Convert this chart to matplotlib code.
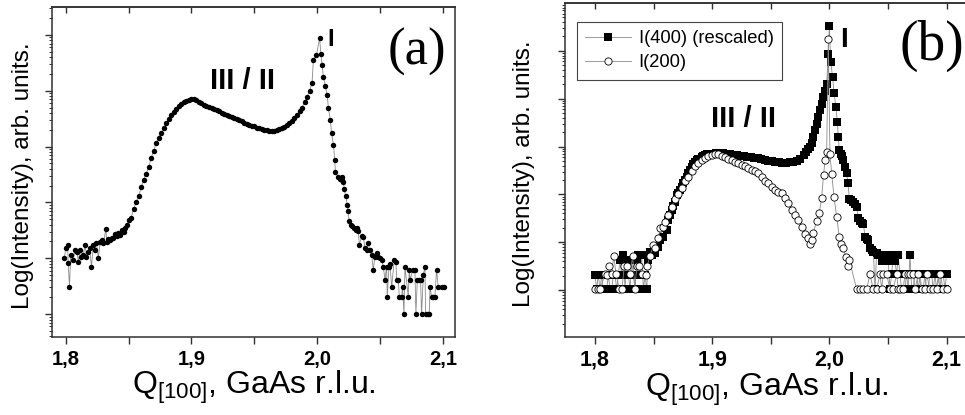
import matplotlib

matplotlib.use("Agg")
import matplotlib.pyplot as plt
import numpy as np
from matplotlib.ticker import FixedLocator, LogLocator, MultipleLocator, NullFormatter

plt.rcParams["font.family"] = ["Liberation Sans", "DejaVu Sans"]
plt.rcParams["mathtext.fontset"] = "custom"
plt.rcParams["mathtext.rm"] = "Liberation Sans"
plt.rcParams["mathtext.it"] = "Liberation Sans:italic"
plt.rcParams["mathtext.bf"] = "Liberation Sans:bold"

# Q[100] and log10(intensity)
# panel (a)
scan_a = [
    (1.799, 1.01), (1.800, 1.18), (1.8015, 1.23), (1.802, 0.91), (1.803, 0.49),
    (1.804, 1.06), (1.806, 0.97), (1.8075, 1.15), (1.809, 1.12), (1.810, 0.94),
    (1.8115, 1.15), (1.8125, 1.03), (1.814, 1.06), (1.8155, 1.24), (1.8165, 1.03),
    (1.818, 1.12), (1.819, 1.18), (1.8205, 0.85), (1.822, 1.24), (1.823, 1.15),
    (1.8245, 1.27), (1.826, 1.01), (1.8275, 1.30), (1.8285, 1.33), (1.830, 1.27),
    (1.832, 1.53), (1.8325, 1.30), (1.834, 1.35), (1.835, 1.33), (1.8365, 1.36),
    (1.838, 1.37), (1.839, 1.43), (1.8405, 1.39), (1.842, 1.45), (1.843, 1.42),
    (1.8445, 1.51), (1.846, 1.47), (1.847, 1.54), (1.8485, 1.60), (1.850, 1.69),
    (1.852, 1.72), (1.854, 1.88), (1.856, 2.00), (1.858, 2.11), (1.860, 2.27),
    (1.862, 2.40), (1.864, 2.51), (1.866, 2.63), (1.868, 2.79), (1.870, 2.93),
    (1.872, 3.06), (1.874, 3.16), (1.876, 3.25), (1.878, 3.34), (1.880, 3.42),
    (1.882, 3.49), (1.884, 3.56), (1.886, 3.62), (1.888, 3.67), (1.890, 3.72),
    (1.892, 3.76), (1.894, 3.79), (1.896, 3.82), (1.898, 3.84), (1.900, 3.85),
    (1.902, 3.845), (1.904, 3.83), (1.906, 3.80), (1.908, 3.78), (1.910, 3.75),
    (1.912, 3.73), (1.914, 3.71), (1.916, 3.69), (1.918, 3.67), (1.920, 3.65),
    (1.922, 3.63), (1.924, 3.61), (1.926, 3.59), (1.928, 3.57), (1.930, 3.55),
    (1.932, 3.53), (1.934, 3.51), (1.936, 3.49), (1.938, 3.47), (1.940, 3.45),
    (1.942, 3.43), (1.944, 3.41), (1.946, 3.39), (1.948, 3.37), (1.950, 3.36),
    (1.952, 3.34), (1.954, 3.33), (1.956, 3.31), (1.958, 3.30), (1.960, 3.29),
    (1.962, 3.285), (1.964, 3.28), (1.966, 3.285), (1.968, 3.29), (1.970, 3.31),
    (1.972, 3.33), (1.974, 3.35), (1.976, 3.38), (1.978, 3.42), (1.980, 3.46),
    (1.982, 3.51), (1.984, 3.56), (1.986, 3.63), (1.988, 3.70), (1.990, 3.79),
    (1.992, 3.89), (1.994, 4.00), (1.996, 4.14), (1.997, 4.55), (1.9995, 4.64),
    (2.002, 4.94), (2.003, 4.66), (2.004, 4.46), (2.005, 4.25), (2.0065, 4.09),
    (2.008, 3.93), (2.009, 3.69), (2.0105, 3.48), (2.0115, 3.24), (2.013, 3.03),
    (2.014, 2.76), (2.0145, 2.55), (2.0165, 2.46), (2.018, 2.42), (2.0195, 2.46),
    (2.0202, 2.40), (2.0209, 2.37), (2.0216, 2.24), (2.0227, 2.12), (2.0240, 1.96),
    (2.0246, 1.84), (2.0256, 1.66), (2.0269, 1.60), (2.0280, 1.57), (2.0293, 1.54),
    (2.0307, 1.51), (2.0320, 1.54), (2.0328, 1.48), (2.0336, 1.24), (2.0354, 1.39),
    (2.0368, 1.38), (2.0381, 1.18), (2.0394, 1.15), (2.0407, 1.27), (2.0420, 1.14),
    (2.0434, 1.06), (2.0447, 0.79), (2.0460, 1.03), (2.0473, 1.09), (2.0486, 1.03),
    (2.0500, 1.00), (2.0513, 0.97), (2.0527, 0.85), (2.0540, 0.61), (2.0553, 0.85),
    (2.0558, 0.31), (2.0572, 0.85), (2.0580, 0.90), (2.0593, 0.48), (2.0614, 0.97),
    (2.0627, 0.94), (2.0633, 0.61), (2.0646, 0.61), (2.0654, 0.31), (2.0672, 0.31),
    (2.0680, 0.48), (2.0691, 0.0), (2.0699, 0.85), (2.0725, 0.31), (2.0733, 0.79),
    (2.0740, 0.61), (2.0760, 0.79), (2.0778, 0.79), (2.0786, 0.0), (2.0797, 0.61),
    (2.0810, 0.61), (2.0823, 0.61), (2.0831, 0.0), (2.0845, 0.70), (2.0858, 0.85),
    (2.0863, 0.0), (2.0879, 0.0), (2.0892, 0.0), (2.0898, 0.48), (2.0911, 0.31),
    (2.0924, 0.31), (2.0937, 0.31), (2.0950, 0.79), (2.0964, 0.48), (2.0990, 0.48),
    (2.1009, 0.48),
]

# panel (b), I(400) rescaled
scan_400 = [
    (1.8000, 0.31), (1.8014, 0.02), (1.8028, 0.31), (1.8043, 0.02), (1.8057, 0.31),
    (1.8071, 0.02), (1.8085, 0.02), (1.8100, 0.02), (1.8114, 0.31), (1.8128, 0.02),
    (1.8142, 0.02), (1.8157, 0.31), (1.8171, 0.31), (1.8185, 0.02), (1.8199, 0.31),
    (1.8213, 0.63), (1.8228, 0.31), (1.8242, 0.73), (1.8256, 0.02), (1.8270, 0.63),
    (1.8285, 0.31), (1.8299, 0.02), (1.8313, 0.63), (1.8327, 0.31), (1.8341, 0.02),
    (1.8356, 0.63), (1.8370, 0.73), (1.8384, 0.31), (1.8398, 0.73), (1.8413, 0.02),
    (1.8427, 0.31), (1.8441, 0.02), (1.8455, 0.63), (1.8470, 0.80), (1.8484, 0.73),
    (1.8498, 0.77), (1.8512, 0.77), (1.8540, 0.91), (1.8555, 1.04), (1.8583, 1.11),
    (1.8612, 1.25), (1.8626, 1.46), (1.8640, 1.56), (1.8654, 1.67), (1.8668, 1.76),
    (1.8683, 1.84), (1.8697, 1.98), (1.8711, 2.03), (1.8725, 2.09), (1.8740, 2.16),
    (1.8754, 2.23), (1.8768, 2.30), (1.8782, 2.37), (1.8797, 2.44), (1.8811, 2.51),
    (1.8825, 2.58), (1.8839, 2.64), (1.8853, 2.68), (1.8868, 2.71), (1.8882, 2.73),
    (1.8896, 2.75), (1.8910, 2.78), (1.8924, 2.80), (1.8939, 2.82), (1.8953, 2.84),
    (1.8970, 2.85), (1.9000, 2.85), (1.9030, 2.86), (1.9060, 2.87), (1.9090, 2.86),
    (1.9120, 2.85), (1.9150, 2.84), (1.9180, 2.83), (1.9210, 2.82), (1.9240, 2.81),
    (1.9270, 2.80), (1.9300, 2.79), (1.9330, 2.78), (1.9360, 2.77), (1.9390, 2.76),
    (1.9420, 2.73), (1.9450, 2.71), (1.9480, 2.70), (1.9510, 2.69), (1.9540, 2.68),
    (1.9570, 2.67), (1.9600, 2.66), (1.9630, 2.66), (1.9660, 2.67), (1.9690, 2.68),
    (1.9720, 2.70), (1.9750, 2.74), (1.9780, 2.82), (1.9800, 2.88), (1.9820, 2.94),
    (1.9835, 2.99), (1.9850, 3.08), (1.9863, 3.20), (1.9877, 3.34), (1.9891, 3.48),
    (1.9905, 3.62), (1.9920, 3.76), (1.9934, 3.90), (1.9948, 4.04), (1.9963, 4.17),
    (1.9977, 4.31), (1.9991, 4.94), (2.0000, 5.53), (2.0011, 4.77), (2.0028, 4.45),
    (2.0040, 4.11), (2.0056, 3.83), (2.0068, 3.51), (2.0076, 3.20), (2.0085, 2.92),
    (2.0100, 2.85), (2.0110, 2.80), (2.0119, 2.71), (2.0133, 2.57), (2.0147, 2.44),
    (2.0160, 2.23), (2.0170, 1.91), (2.0185, 1.88), (2.0200, 1.84), (2.0215, 1.80),
    (2.0233, 1.74), (2.0247, 1.50), (2.0261, 1.45), (2.0275, 1.41), (2.0290, 1.39),
    (2.0304, 1.12), (2.0318, 1.07), (2.0333, 1.04), (2.0347, 0.87), (2.0361, 0.84),
    (2.0375, 0.80), (2.0390, 0.02), (2.0403, 0.77), (2.0418, 0.73), (2.0432, 0.73),
    (2.0446, 0.60), (2.0460, 0.73), (2.0474, 0.60), (2.0489, 0.73), (2.0503, 0.60),
    (2.0517, 0.02), (2.0531, 0.33), (2.0545, 0.73), (2.0560, 0.60), (2.0574, 0.33),
    (2.0588, 0.73), (2.0602, 0.33), (2.0616, 0.02), (2.0630, 0.02), (2.0645, 0.02),
    (2.0659, 0.33), (2.0673, 0.02), (2.0688, 0.73), (2.0702, 0.02), (2.0716, 0.02),
    (2.0730, 0.33), (2.0745, 0.33), (2.0759, 0.02), (2.0773, 0.33), (2.0787, 0.02),
    (2.0801, 0.02), (2.0815, 0.33), (2.0830, 0.02), (2.0844, 0.02), (2.0858, 0.33),
    (2.0872, 0.33), (2.0887, 0.02), (2.0901, 0.33), (2.0915, 0.02), (2.0930, 0.33),
    (2.0944, 0.02), (2.0958, 0.33), (2.0972, 0.33), (2.0986, 0.02), (2.1000, 0.33),
]

# panel (b), I(200)
scan_200 = [
    (1.8000, 0.02), (1.8022, 0.02), (1.8043, 0.02), (1.8085, 0.33), (1.8100, 0.31),
    (1.8122, 0.50), (1.8142, 0.33), (1.8160, 0.71), (1.8180, 0.33), (1.8208, 0.02),
    (1.8230, 0.02), (1.8250, 0.50), (1.8270, 0.50), (1.8300, 0.33), (1.8321, 0.71),
    (1.8341, 0.02), (1.8356, 0.50), (1.8378, 0.50), (1.8400, 0.33), (1.8435, 0.31),
    (1.8446, 0.50), (1.8469, 0.71), (1.8498, 0.94), (1.8512, 0.87), (1.8540, 1.08),
    (1.8555, 1.29), (1.8583, 1.32), (1.8597, 1.43), (1.8626, 1.57), (1.8654, 1.74),
    (1.8683, 1.91), (1.8711, 2.00), (1.8740, 2.14), (1.8768, 2.27), (1.8797, 2.37),
    (1.8825, 2.49), (1.8853, 2.59), (1.8882, 2.66), (1.8910, 2.72), (1.8939, 2.77),
    (1.8967, 2.80), (1.8995, 2.83), (1.9024, 2.85), (1.9052, 2.84), (1.9081, 2.81),
    (1.9109, 2.78), (1.9138, 2.75), (1.9166, 2.72), (1.9195, 2.68), (1.9223, 2.65),
    (1.9251, 2.61), (1.9280, 2.59), (1.9308, 2.56), (1.9337, 2.50), (1.9365, 2.48),
    (1.9394, 2.44), (1.9422, 2.36), (1.9451, 2.28), (1.9479, 2.24), (1.9507, 2.16),
    (1.9536, 2.10), (1.9564, 2.04), (1.9593, 2.02), (1.9621, 1.92), (1.9650, 1.83),
    (1.9678, 1.67), (1.9706, 1.58), (1.9735, 1.46), (1.9763, 1.32), (1.9792, 1.18),
    (1.9820, 1.08), (1.9834, 0.97), (1.9849, 1.04), (1.9863, 1.20), (1.9891, 1.44),
    (1.9914, 1.62), (1.9934, 1.92), (1.9950, 2.40), (1.9963, 2.71), (1.9977, 2.89),
    (1.9991, 5.25), (2.0005, 2.85), (2.0020, 2.42), (2.0040, 1.95), (2.0062, 1.53),
    (2.0085, 1.11), (2.0099, 0.97), (2.0119, 0.87), (2.0140, 0.70), (2.0156, 0.51),
    (2.0170, 0.63), (2.0233, 0.02), (2.0261, 0.02), (2.0289, 0.02), (2.0318, 0.02),
    (2.0346, 0.33), (2.0375, 0.02), (2.0403, 0.02), (2.0432, 0.33), (2.0446, 0.02),
    (2.0460, 0.33), (2.0489, 0.33), (2.0517, 0.02), (2.0545, 0.02), (2.0574, 0.33),
    (2.0588, 0.02), (2.0602, 0.02), (2.0630, 0.02), (2.0645, 0.33), (2.0673, 0.33),
    (2.0688, 0.33), (2.0716, 0.33), (2.0730, 0.02), (2.0759, 0.33), (2.0787, 0.02),
    (2.0816, 0.02), (2.0830, 0.33), (2.0858, 0.02), (2.0887, 0.02), (2.0915, 0.02),
    (2.0944, 0.33), (2.0972, 0.02), (2.1000, 0.02),
]

tick_values = [1.8, 1.9, 2.0, 2.1]
tick_labels = ["1,8", "1,9", "2,0", "2,1"]
legend_labels = ["I(400) (rescaled)", "I(200)"]

XLABEL = r"Q$_\mathregular{[100]}$, GaAs r.l.u."
YLABEL = "Log(Intensity), arb. units."
LINE_GRAY = "#8a8a8a"
SPINE = "#303030"


def split(scan):
    q, logi = np.array(scan).T
    return q, 10.0 ** logi


def style_axes(ax, xlim, ylim, tick_size, ylabel_x):
    ax.set_yscale("log")
    ax.set_xlim(*xlim)
    ax.set_ylim(*ylim)

    ax.xaxis.set_major_locator(FixedLocator(tick_values))
    ax.set_xticklabels(tick_labels, fontsize=tick_size, fontweight="bold")
    ax.xaxis.set_minor_locator(MultipleLocator(0.05))
    ax.tick_params(axis="x", which="both", direction="out", length=5,
                   width=1.0, color=SPINE, pad=4)

    ax.yaxis.set_major_locator(LogLocator(base=10, numticks=20))
    ax.yaxis.set_minor_locator(LogLocator(base=10, subs=np.arange(2, 10), numticks=20))
    ax.yaxis.set_major_formatter(NullFormatter())
    ax.yaxis.set_minor_formatter(NullFormatter())
    ax.tick_params(axis="y", which="major", direction="out", length=5, width=1.0,
                   color=SPINE)
    ax.tick_params(axis="y", which="minor", direction="out", length=2.5, width=0.7,
                   color=SPINE)

    # Origin-style top axis: ticks pointing in, no labels
    top = ax.secondary_xaxis("top")
    top.xaxis.set_major_locator(MultipleLocator(0.05))
    top.tick_params(direction="in", length=4.5, width=1.0, color=SPINE,
                    labeltop=False)
    top.spines["top"].set_linewidth(1.1)
    top.spines["top"].set_color(SPINE)

    for spine in ax.spines.values():
        spine.set_linewidth(1.1)
        spine.set_color(SPINE)

    ax.set_xlabel(XLABEL, fontsize=23, labelpad=0)
    ax.set_ylabel(YLABEL, fontsize=17.5)
    ax.yaxis.set_label_coords(ylabel_x, 0.49)


def main():
    fig = plt.figure(figsize=(9.65, 4.15), dpi=100)
    W, H = 965.0, 415.0

    # panel (a)
    ax_a = fig.add_axes([52 / W, 1 - 337 / H, 403 / W, 330 / H])
    q, inten = split(scan_a)
    ax_a.plot(q, inten, "-", color=LINE_GRAY, lw=0.6, zorder=2)
    ax_a.plot(q, inten, "o", color="black", ms=3.9, mew=0, zorder=3)
    style_axes(ax_a, (1.7891, 2.1097), (10 ** -0.41, 10 ** 5.5), 14.5, -0.045)
    ax_a.text(2.0795, 10 ** 4.69, "(a)", family="Liberation Serif", fontsize=38,
              ha="center", va="center")
    ax_a.text(2.011, 10 ** 4.91, "I", fontsize=17, fontweight="bold",
              ha="center", va="center")
    ax_a.text(1.941, 10 ** 4.18, "III / II", fontsize=21, fontweight="bold",
              ha="center", va="center")

    # panel (b); right spine lies just past the picture edge
    ax_b = fig.add_axes([565 / W, 1 - 337 / H, 403 / W, 333.5 / H])
    q4, i4 = split(scan_400)
    q2, i2 = split(scan_200)
    ax_b.plot(q4, i4, "-", color=LINE_GRAY, lw=0.6, marker="s", ms=5.2,
              mfc="black", mec="black", mew=0, label=legend_labels[0], zorder=2)
    ax_b.plot(q2, i2, "-", color=LINE_GRAY, lw=0.6, marker="o", ms=5.2,
              mfc="white", mec="black", mew=0.6, label=legend_labels[1], zorder=3)
    style_axes(ax_b, (1.7744, 2.1183), (10 ** -0.98, 10 ** 5.99), 15.5, -0.075)
    ax_b.spines["right"].set_visible(False)
    ax_b.text(2.0875, 10 ** 5.11, "(b)", family="Liberation Serif", fontsize=40,
              ha="center", va="center")
    ax_b.text(2.0125, 10 ** 5.22, "I", fontsize=20, fontweight="bold",
              ha="center", va="center")
    ax_b.text(1.9263, 10 ** 3.57, "III / II", fontsize=21, fontweight="bold",
              ha="center", va="center")

    leg = ax_b.legend(loc="upper left", bbox_to_anchor=(0.03, 0.945),
                      fontsize=13.2, handlelength=2.5, handletextpad=0.4,
                      borderpad=0.45, labelspacing=0.4, fancybox=False,
                      framealpha=1, borderaxespad=0)
    leg.get_frame().set_edgecolor("#444444")
    leg.get_frame().set_linewidth(0.8)

    fig.savefig("out.png", dpi=100)


if __name__ == "__main__":
    main()
